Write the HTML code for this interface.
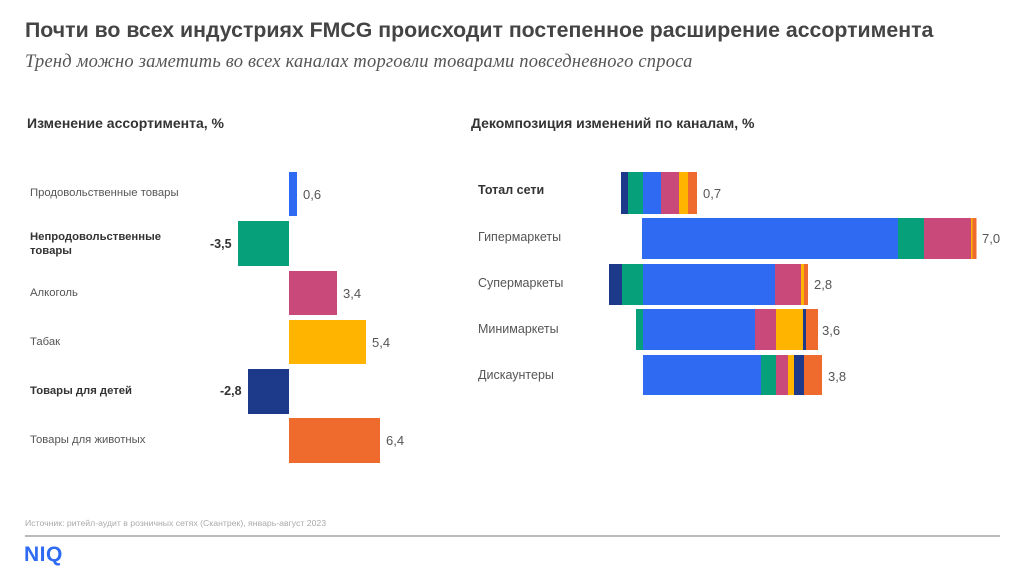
<!DOCTYPE html>
<html><head><meta charset="utf-8"><style>
body{margin:0;width:1024px;height:575px;background:#fff;position:relative;overflow:hidden;font-family:"Liberation Sans",sans-serif;color:#444}
.a{position:absolute;white-space:nowrap}
.b{position:absolute}
.l{font-size:11.3px;color:#555}
.v{font-size:13px;color:#555}
.bd{font-weight:bold;color:#333}
</style></head><body>
<div class="a" style="left:25px;top:18px;font-size:21.3px;font-weight:bold;color:#444">Почти во всех индустриях FMCG происходит постепенное расширение ассортимента</div>
<div class="a" style="left:25px;top:52px;font-size:18.5px;font-style:italic;font-family:'Liberation Serif',serif;color:#555;letter-spacing:0.2px">Тренд можно заметить во всех каналах торговли товарами повседневного спроса</div>
<div class="a bd" style="left:27px;top:115px;font-size:14px">Изменение ассортимента, %</div>
<div class="a bd" style="left:471px;top:115px;font-size:14px">Декомпозиция изменений по каналам, %</div>

<div class="a l" style="left:30px;top:187px">Продовольственные товары</div>
<div class="a l bd" style="left:30px;top:230px;line-height:14px">Непродовольственные<br>товары</div>
<div class="a l" style="left:30px;top:287px">Алкоголь</div>
<div class="a l" style="left:30px;top:336px">Табак</div>
<div class="a l bd" style="left:30px;top:385px">Товары для детей</div>
<div class="a l" style="left:30px;top:434px">Товары для животных</div>

<div class="b" style="left:289px;top:172px;width:8px;height:44px;background:#2f6bf2"></div>
<div class="b" style="left:238px;top:221px;width:51px;height:45px;background:#06a07a"></div>
<div class="b" style="left:289px;top:271px;width:48px;height:44px;background:#c9497a"></div>
<div class="b" style="left:289px;top:320px;width:77px;height:44px;background:#ffb400"></div>
<div class="b" style="left:248px;top:369px;width:41px;height:45px;background:#1d3a8a"></div>
<div class="b" style="left:289px;top:418px;width:91px;height:45px;background:#ee6a2d"></div>
<div class="a v" style="left:303px;top:187px">0,6</div>
<div class="a v bd" style="left:210px;top:237px;font-size:12.5px">-3,5</div>
<div class="a v" style="left:343px;top:286px">3,4</div>
<div class="a v" style="left:372px;top:335px">5,4</div>
<div class="a v bd" style="left:220px;top:384px;font-size:12.5px">-2,8</div>
<div class="a v" style="left:386px;top:433px">6,4</div>

<div class="a l bd" style="left:478px;top:183px;font-size:12.5px">Тотал сети</div>
<div class="a l" style="left:478px;top:230px;font-size:12.5px">Гипермаркеты</div>
<div class="a l" style="left:478px;top:276px;font-size:12.5px">Супермаркеты</div>
<div class="a l" style="left:478px;top:322px;font-size:12.5px">Минимаркеты</div>
<div class="a l" style="left:478px;top:368px;font-size:12.5px">Дискаунтеры</div>

<svg class="b" style="left:0;top:0" width="1024" height="575">
<g>
<rect x="621" y="172" width="7" height="42" fill="#1d3a8a"/>
<rect x="628" y="172" width="15" height="42" fill="#06a07a"/>
<rect x="643" y="172" width="18" height="42" fill="#2f6bf2"/>
<rect x="661" y="172" width="18" height="42" fill="#c9497a"/>
<rect x="679" y="172" width="9" height="42" fill="#ffb400"/>
<rect x="688" y="172" width="9" height="42" fill="#ee6a2d"/>

<rect x="642" y="218" width="256" height="41" fill="#2f6bf2"/>
<rect x="898" y="218" width="26" height="41" fill="#06a07a"/>
<rect x="924" y="218" width="47" height="41" fill="#c9497a"/>
<rect x="971" y="218" width="1.5" height="41" fill="#ffb400"/>
<rect x="972.5" y="218" width="4" height="41" fill="#ee6a2d"/>

<rect x="609" y="264" width="13" height="41" fill="#1d3a8a"/>
<rect x="622" y="264" width="21" height="41" fill="#06a07a"/>
<rect x="643" y="264" width="132" height="41" fill="#2f6bf2"/>
<rect x="775" y="264" width="26" height="41" fill="#c9497a"/>
<rect x="801" y="264" width="3" height="41" fill="#ffb400"/>
<rect x="804" y="264" width="4" height="41" fill="#ee6a2d"/>

<rect x="636" y="309" width="7" height="41" fill="#06a07a"/>
<rect x="643" y="309" width="112" height="41" fill="#2f6bf2"/>
<rect x="755" y="309" width="21" height="41" fill="#c9497a"/>
<rect x="776" y="309" width="27" height="41" fill="#ffb400"/>
<rect x="803" y="309" width="3" height="41" fill="#1d3a8a"/>
<rect x="806" y="309" width="12" height="41" fill="#ee6a2d"/>

<rect x="643" y="355" width="118" height="40" fill="#2f6bf2"/>
<rect x="761" y="355" width="15" height="40" fill="#06a07a"/>
<rect x="776" y="355" width="12" height="40" fill="#c9497a"/>
<rect x="788" y="355" width="6" height="40" fill="#ffb400"/>
<rect x="794" y="355" width="10" height="40" fill="#1d3a8a"/>
<rect x="804" y="355" width="18" height="40" fill="#ee6a2d"/>
</g>
<line x1="25" y1="536" x2="1000" y2="536" stroke="#777" stroke-width="1"/>
</svg>
<div class="a v" style="left:703px;top:186px">0,7</div>
<div class="a v" style="left:982px;top:231px">7,0</div>
<div class="a v" style="left:814px;top:277px">2,8</div>
<div class="a v" style="left:822px;top:323px">3,6</div>
<div class="a v" style="left:828px;top:369px">3,8</div>

<div class="a" style="left:25px;top:518px;font-size:8.7px;color:#aaa">Источник: ритейл-аудит в розничных сетях (Скантрек), январь-август 2023</div>
<div class="a" style="left:24px;top:543px;font-size:21px;font-weight:900;color:#2f6bf2;letter-spacing:0.5px">NIQ</div>
</body></html>
